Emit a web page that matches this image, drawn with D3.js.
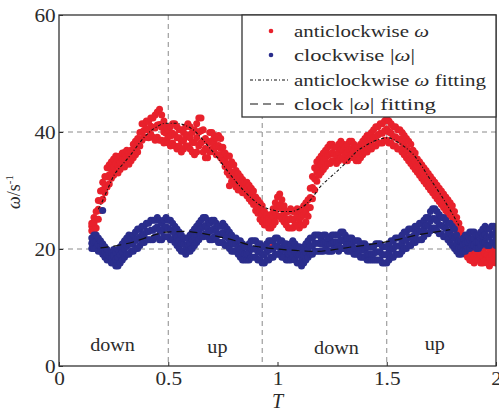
<!DOCTYPE html>
<html><head><meta charset="utf-8">
<script src="https://cdn.jsdelivr.net/npm/d3@7"></script>
<style>
html,body{margin:0;padding:0;background:#fff;}
svg{display:block;}
text{font-family:"Liberation Serif","Times New Roman",serif;fill:#2b2b2b;}
</style></head><body>
<svg id="chart" width="499" height="412"></svg>
<script>
// ---- data ----
const xTicks = [0, 0.5, 1, 1.5, 2];
const xTickLabels = ["0", "0.5", "1", "1.5", "2"];
const yTicks = [0, 20, 40, 60];
const yTickLabels = ["0", "20", "40", "60"];
const vGrid = [0.5, 0.93, 1.5];
const hGrid = [20, 40];
const phaseLabels = ["down", "up", "down", "up"];
const phaseT = [0.245, 0.725, 1.27, 1.72];
const phaseW = [2.5, 2.3, 2.0, 2.7];

// anticlockwise ω: [T, ω, ω, ω]
const anticlockwise = [
[0.15,23.1,23.9,24.4],[0.16,23.0,24.3,25.4],[0.17,23.6,25.1,26.4],[0.18,25.1,26.8,28.3],[0.19,26.6,28.2,29.9],
[0.20,28.5,30.1,31.4],[0.21,29.6,31.0,32.4],[0.22,30.6,32.3,33.9],[0.23,31.1,32.7,34.4],[0.24,32.1,33.6,34.9],
[0.25,32.6,34.0,35.4],[0.26,33.1,34.6,35.9],[0.27,33.0,34.3,35.4],[0.28,33.6,34.8,35.9],[0.29,34.1,35.3,36.4],
[0.30,34.0,35.2,36.5],[0.31,34.6,35.8,36.9],[0.32,34.5,35.5,36.4],[0.33,35.1,36.1,36.9],[0.34,35.6,36.8,37.9],
[0.35,36.1,37.3,38.4],[0.36,36.6,37.8,38.9],[0.37,37.6,38.7,39.9],[0.38,38.6,40.0,41.4],[0.39,39.1,40.3,41.4],
[0.40,39.1,40.5,41.9],[0.41,39.0,40.4,41.8],[0.42,39.6,41.0,42.4],[0.43,39.1,40.8,42.4],[0.44,38.6,40.7,42.9],
[0.45,39.1,41.2,43.4],[0.46,38.6,41.3,43.9],[0.47,38.6,40.8,42.9],[0.48,38.1,40.0,41.9],[0.49,38.6,39.8,40.9],
[0.50,38.1,39.2,40.4],[0.51,37.6,39.3,40.9],[0.52,38.1,39.8,41.4],[0.53,37.6,39.5,41.4],[0.54,37.1,39.0,40.9],
[0.55,37.6,39.0,40.4],[0.56,36.6,38.5,40.4],[0.57,37.1,38.5,39.9],[0.58,37.6,39.2,40.9],[0.59,37.6,39.5,41.4],
[0.60,37.1,39.0,40.9],[0.61,36.6,38.2,39.9],[0.62,36.1,38.2,40.4],[0.63,36.6,39.0,41.4],[0.64,37.6,40.0,42.4],
[0.65,38.1,40.2,42.4],[0.66,36.6,38.5,40.4],[0.67,35.6,37.2,38.9],[0.68,35.6,37.0,38.4],[0.69,36.6,38.2,39.9],
[0.70,37.1,38.5,39.9],[0.71,36.6,38.0,39.4],[0.72,36.1,37.5,38.9],[0.73,36.1,37.7,39.4],[0.74,35.6,37.2,38.9],
[0.75,35.1,36.2,37.4],[0.76,34.1,35.2,36.4],[0.77,33.1,34.5,35.9],[0.78,32.6,34.2,35.9],[0.79,31.6,33.2,34.9],
[0.80,31.1,32.7,34.4],[0.81,30.6,32.0,33.4],[0.82,30.1,31.5,32.9],[0.83,30.1,31.2,32.4],[0.84,29.6,30.8,31.9],
[0.85,29.6,30.5,31.4],[0.86,29.1,30.2,31.4],[0.87,28.6,29.8,30.9],[0.88,28.1,29.2,30.4],[0.89,27.6,28.8,29.9],
[0.90,26.6,27.8,28.9],[0.91,26.1,27.2,28.4],[0.92,25.1,26.5,27.9],[0.93,24.6,26.0,27.4],[0.94,24.1,25.2,26.4],
[0.95,24.1,25.0,25.9],[0.96,23.6,24.5,25.4],[0.97,23.6,24.8,25.9],[0.98,24.1,25.5,26.9],[0.99,24.6,26.2,27.9],
[1.00,25.6,27.2,28.9],[1.01,25.6,27.5,29.4],[1.02,25.1,26.8,28.4],[1.03,24.6,26.0,27.4],[1.04,24.1,25.2,26.4],
[1.05,23.6,25.0,26.4],[1.06,23.6,25.2,26.9],[1.07,23.6,25.0,26.4],[1.08,24.1,25.2,26.4],[1.09,24.1,25.5,26.9],
[1.10,23.6,25.0,26.4],[1.11,24.1,25.5,26.9],[1.12,24.1,25.8,27.4],[1.13,24.6,26.2,27.9],[1.14,25.6,27.0,28.4],
[1.15,27.1,28.8,30.4],[1.16,28.6,30.5,32.4],[1.17,30.1,32.0,33.9],[1.18,31.6,33.2,34.9],[1.19,32.6,34.0,35.4],
[1.20,33.1,34.5,35.9],[1.21,33.6,35.0,36.4],[1.22,34.1,35.5,36.9],[1.23,34.6,36.0,37.4],[1.24,34.6,36.2,37.9],
[1.25,35.1,36.5,37.9],[1.26,35.1,36.2,37.4],[1.27,34.6,36.0,37.4],[1.28,35.1,36.5,37.9],[1.29,35.6,37.0,38.4],
[1.30,35.6,36.8,37.9],[1.31,35.1,36.2,37.4],[1.32,35.1,36.5,37.9],[1.33,35.6,37.0,38.4],[1.34,36.1,37.2,38.4],
[1.35,35.6,36.8,37.9],[1.36,35.1,36.2,37.4],[1.37,35.1,36.2,37.4],[1.38,35.6,36.8,37.9],[1.39,36.1,37.2,38.4],
[1.40,36.6,37.8,38.9],[1.41,36.6,38.0,39.4],[1.42,37.1,38.2,39.4],[1.43,37.1,38.5,39.9],[1.44,37.6,39.0,40.4],
[1.45,37.6,39.2,40.9],[1.46,38.1,39.5,40.9],[1.47,38.1,39.8,41.4],[1.48,38.1,39.8,41.4],[1.49,38.6,40.2,41.9],
[1.50,38.6,40.5,42.4],[1.51,38.1,40.0,41.9],[1.52,38.1,39.8,41.4],[1.53,37.6,39.2,40.9],[1.54,37.6,39.2,40.9],
[1.55,37.1,38.8,40.4],[1.56,37.1,38.8,40.4],[1.57,36.6,38.2,39.9],[1.58,36.1,37.8,39.4],[1.59,35.6,37.2,38.9],
[1.60,35.1,36.8,38.4],[1.61,34.6,36.2,37.9],[1.62,34.1,35.5,36.9],[1.63,33.6,35.0,36.4],[1.64,33.1,34.2,35.4],
[1.65,32.6,33.8,34.9],[1.66,32.1,33.2,34.4],[1.67,31.6,32.8,33.9],[1.68,31.1,32.2,33.4],[1.69,30.6,31.8,32.9],
[1.70,30.1,31.2,32.4],[1.71,29.6,30.8,31.9],[1.72,29.1,30.2,31.4],[1.73,28.6,29.8,30.9],[1.74,28.1,29.2,30.4],
[1.75,27.6,28.8,29.9],[1.76,27.1,28.2,29.4],[1.77,26.6,27.8,28.9],[1.78,26.1,27.2,28.4],[1.79,25.6,26.8,27.9],
[1.80,24.6,26.0,27.4],[1.81,24.1,25.2,26.4],[1.82,23.1,24.2,25.4],[1.83,22.1,23.2,24.4],[1.84,21.1,22.2,23.4],
[1.85,20.1,21.2,22.4],[1.86,19.1,20.2,21.4],[1.87,18.6,19.8,20.9],[1.88,18.1,19.2,20.4],[1.89,18.0,19.3,20.3],
[1.90,17.6,18.8,19.9],[1.91,18.1,19.2,20.4],[1.92,18.1,19.5,20.9],[1.93,17.6,19.0,20.4],[1.94,17.6,18.8,19.9],
[1.95,18.1,19.2,20.4],[1.96,17.6,19.0,20.4],[1.97,17.1,18.5,19.9],[1.98,17.6,19.0,20.4],[1.99,18.1,19.5,20.9],
[2.00,17.6,19.0,20.4],[0.78,30.8],[0.975,20.3]
];

// clockwise |ω|: [T, ω, ω, ω]
const clockwise = [
[0.15,20.1,21.0,21.9],[0.16,20.1,21.2,22.4],[0.17,20.1,21.3,22.4],[0.18,19.6,20.8,21.9],[0.19,19.6,20.5,21.4],
[0.20,19.1,20.0,20.9],[0.21,18.6,19.5,20.4],[0.22,18.1,19.0,19.9],[0.23,18.1,18.8,19.4],[0.24,17.6,18.5,19.4],
[0.25,17.6,18.8,19.9],[0.26,17.1,18.2,19.4],[0.27,17.1,18.5,19.9],[0.28,17.6,19.0,20.4],[0.29,18.1,19.5,20.9],
[0.30,18.6,20.0,21.4],[0.31,19.1,20.5,21.9],[0.32,19.1,20.8,22.4],[0.33,19.6,20.8,21.9],[0.34,19.6,21.0,22.4],
[0.35,20.1,21.5,22.9],[0.36,20.1,21.8,23.4],[0.37,20.6,22.0,23.4],[0.38,21.1,22.5,23.9],[0.39,21.1,22.5,23.9],
[0.40,21.6,23.0,24.4],[0.41,21.6,23.0,24.4],[0.42,21.6,23.2,24.9],[0.43,21.6,23.2,24.9],[0.44,22.1,23.5,24.9],
[0.45,22.1,23.8,25.4],[0.46,21.6,23.2,24.9],[0.47,21.6,23.0,24.4],[0.48,22.1,23.5,24.9],[0.49,22.1,23.8,25.4],
[0.50,22.1,23.5,24.9],[0.51,21.6,23.2,24.9],[0.52,21.6,23.0,24.4],[0.53,21.1,22.5,23.9],[0.54,20.6,22.0,23.4],
[0.55,20.1,21.5,22.9],[0.56,19.6,21.0,22.4],[0.57,19.6,20.8,21.9],[0.58,19.1,20.5,21.9],[0.59,19.6,20.8,21.9],
[0.60,19.6,21.0,22.4],[0.61,20.1,21.5,22.9],[0.62,20.6,22.0,23.4],[0.63,21.1,22.5,23.9],[0.64,21.6,23.0,24.4],
[0.65,22.1,23.5,24.9],[0.66,22.1,23.8,25.4],[0.67,22.6,24.0,25.4],[0.68,22.1,23.5,24.9],[0.69,21.6,23.0,24.4],
[0.70,21.6,23.2,24.9],[0.71,22.1,23.5,24.9],[0.72,21.6,23.0,24.4],[0.73,21.1,22.5,23.9],[0.74,21.1,22.5,23.9],
[0.75,21.1,22.8,24.4],[0.76,20.6,22.2,23.9],[0.77,20.6,22.0,23.4],[0.78,20.1,21.5,22.9],[0.79,19.6,21.0,22.4],
[0.80,19.6,20.8,21.9],[0.81,19.6,20.8,21.9],[0.82,19.1,20.2,21.4],[0.83,18.6,20.0,21.4],[0.84,18.1,19.5,20.9],
[0.85,18.1,19.2,20.4],[0.86,18.1,19.2,20.4],[0.87,18.1,19.5,20.9],[0.88,18.6,20.0,21.4],[0.89,18.6,20.0,21.4],
[0.90,18.6,20.0,21.4],[0.91,18.1,19.5,20.9],[0.92,18.1,19.5,20.9],[0.93,17.6,19.0,20.4],[0.94,17.6,19.0,20.4],
[0.95,18.1,19.5,20.9],[0.96,18.1,19.8,21.4],[0.97,18.6,20.0,21.4],[0.98,18.6,20.0,21.4],[0.99,19.1,20.5,21.9],
[1.00,19.1,20.5,21.9],[1.01,19.1,20.2,21.4],[1.02,18.6,20.0,21.4],[1.03,18.6,19.8,20.9],[1.04,18.1,19.5,20.9],
[1.05,18.1,19.2,20.4],[1.06,18.1,19.5,20.9],[1.07,18.6,20.0,21.4],[1.08,18.1,19.5,20.9],[1.09,17.6,19.0,20.4],
[1.10,17.6,19.0,20.4],[1.11,17.1,18.5,19.9],[1.12,17.6,19.0,20.4],[1.13,18.1,19.5,20.9],[1.14,18.6,20.0,21.4],
[1.15,19.1,20.5,21.9],[1.16,19.1,20.5,21.9],[1.17,19.6,21.0,22.4],[1.18,19.6,21.0,22.4],[1.19,19.6,21.0,22.4],
[1.20,19.6,20.8,21.9],[1.21,19.6,21.0,22.4],[1.22,20.1,21.2,22.4],[1.23,19.6,20.8,21.9],[1.24,19.6,20.8,21.9],
[1.25,19.6,21.0,22.4],[1.26,20.1,21.2,22.4],[1.27,20.1,21.2,22.4],[1.28,19.6,21.0,22.4],[1.29,20.1,21.5,22.9],
[1.30,20.1,21.5,22.9],[1.31,20.1,21.2,22.4],[1.32,19.6,20.8,21.9],[1.33,19.6,20.8,21.9],[1.34,19.6,20.8,21.9],
[1.35,19.1,20.2,21.4],[1.36,19.1,20.2,21.4],[1.37,19.1,20.2,21.4],[1.38,18.6,19.8,20.9],[1.39,18.6,19.8,20.9],
[1.40,18.6,19.8,20.9],[1.41,18.1,19.2,20.4],[1.42,18.1,19.2,20.4],[1.43,18.1,19.2,20.4],[1.44,18.1,19.2,20.4],
[1.45,18.1,19.5,20.9],[1.46,18.1,19.5,20.9],[1.47,18.1,19.5,20.9],[1.48,17.6,19.0,20.4],[1.49,17.6,19.0,20.4],
[1.50,17.6,19.0,20.4],[1.51,18.1,19.5,20.9],[1.52,18.6,20.0,21.4],[1.53,18.6,20.0,21.4],[1.54,19.1,20.5,21.9],
[1.55,19.1,20.5,21.9],[1.56,19.1,20.5,21.9],[1.57,19.6,21.0,22.4],[1.58,20.1,21.5,22.9],[1.59,20.1,21.5,22.9],
[1.60,20.6,22.0,23.4],[1.61,20.6,22.0,23.4],[1.62,21.1,22.2,23.4],[1.63,21.1,22.5,23.9],[1.64,21.6,22.8,23.9],
[1.65,21.6,23.0,24.4],[1.66,21.6,23.0,24.4],[1.67,22.1,23.5,24.9],[1.68,22.6,24.0,25.4],[1.69,22.6,24.0,25.4],
[1.70,23.1,24.8,26.4],[1.71,23.6,25.2,26.9],[1.72,23.6,25.2,26.9],[1.73,23.1,24.8,26.4],[1.74,22.6,24.2,25.9],
[1.75,22.6,24.0,25.4],[1.76,22.1,23.8,25.4],[1.77,22.1,23.5,24.9],[1.78,21.6,23.0,24.4],[1.79,21.1,22.8,24.4],
[1.80,20.6,22.2,23.9],[1.81,20.1,21.8,23.4],[1.82,19.6,21.0,22.4],[1.83,19.1,20.2,21.4],[1.84,19.1,20.2,21.4],
[1.85,19.6,20.8,21.9],[1.86,19.6,21.0,22.4],[1.87,20.1,21.2,22.4],[1.88,20.1,21.5,22.9],[1.89,20.6,21.8,22.9],
[1.90,20.6,21.8,22.9],[1.91,20.1,21.2,22.4],[1.92,20.1,21.2,22.4],[1.93,20.6,21.8,22.9],[1.94,21.1,22.2,23.4],
[1.95,21.1,22.5,23.9],[1.96,20.6,22.0,23.4],[1.97,20.6,22.0,23.4],[1.98,21.1,22.5,23.9],[1.99,21.1,22.5,23.9],
[2.00,20.6,22.0,23.4],[0.20,26.6]
];

// fitted curves [T, ω]
const anticlockwiseFit = [
[0.18,26.8],[0.19,27.5],[0.22,30.0],[0.25,32.5],[0.29,34.4],[0.33,36.2],[0.37,38.2],[0.40,39.5],[0.44,40.7],
[0.49,41.5],[0.53,41.5],[0.58,41.1],[0.62,40.2],[0.66,38.6],[0.70,36.8],[0.73,35.4],[0.77,33.4],[0.81,31.5],
[0.85,29.8],[0.88,28.7],[0.92,27.5],[0.975,26.7],[1.02,26.4],[1.06,26.4],[1.10,26.9],[1.13,27.6],[1.16,28.8],
[1.19,30.4],[1.24,32.2],[1.29,33.9],[1.33,35.4],[1.36,36.6],[1.40,37.6],[1.44,38.4],[1.48,38.9],[1.51,39.0],
[1.54,38.5],[1.58,37.5],[1.63,35.8],[1.66,34.2],[1.69,32.4],[1.72,30.8],[1.75,29.1],[1.78,27.3],[1.81,25.4],[1.83,24.0]
];
const clockwiseFit = [
[0.19,20.2],[0.25,20.5],[0.34,21.2],[0.42,22.2],[0.49,22.9],[0.57,23.0],[0.65,22.7],[0.72,22.2],[0.80,21.5],
[0.87,20.7],[0.95,20.2],[1.03,19.9],[1.10,19.7],[1.18,19.6],[1.26,19.9],[1.33,20.3],[1.41,20.7],[1.48,21.1],
[1.56,21.7],[1.64,22.4],[1.72,22.9],[1.79,23.3]
];

// ---- drawing ----
const W = 499, H = 412;
const L = 59, R = 496, T = 15, B = 366;
const RED = "#e8212c", BLUE = "#2a2d8c", INK = "#2b2b2b";
const FONT = '"Liberation Serif","Times New Roman",serif';
const SX = "scale(1.12,1)";
const svg = d3.select("#chart");
svg.append("rect").attr("width", W).attr("height", H).attr("fill", "#fff");

const x = d3.scaleLinear().domain([0, 2]).range([L, R]);
const y = d3.scaleLinear().domain([0, 60]).range([B, T]);

svg.append("defs").append("clipPath").attr("id", "clip")
  .append("rect").attr("x", L).attr("y", T).attr("width", R - L).attr("height", B - T);

// grid
const grid = svg.append("g").attr("stroke", "#8a8a8a").attr("stroke-width", 1).attr("stroke-dasharray", "5,4");
grid.selectAll(".vg").data(vGrid).join("line")
  .attr("x1", d => x(d)).attr("x2", d => x(d)).attr("y1", T).attr("y2", B);
grid.selectAll(".hg").data(hGrid).join("line")
  .attr("x1", L).attr("x2", R).attr("y1", d => y(d)).attr("y2", d => y(d));

// points
const flat = rows => rows.flatMap(r => r.slice(1).map(v => [r[0], v]));
const pts = svg.append("g").attr("clip-path", "url(#clip)");
pts.selectAll(".r").data(flat(anticlockwise)).join("circle")
  .attr("cx", d => x(d[0])).attr("cy", d => y(d[1])).attr("r", 3.5).attr("fill", RED);
pts.selectAll(".b").data(flat(clockwise)).join("circle")
  .attr("cx", d => x(d[0])).attr("cy", d => y(d[1])).attr("r", 3.5).attr("fill", BLUE);

// fits
const line = d3.line().x(d => x(d[0])).y(d => y(d[1])).curve(d3.curveMonotoneX);
svg.append("path").datum(anticlockwiseFit).attr("d", line).attr("fill", "none")
  .attr("stroke", "#111").attr("stroke-width", 1.1).attr("stroke-dasharray", "3,2,1,2");
svg.append("path").datum(clockwiseFit).attr("d", line).attr("fill", "none")
  .attr("stroke", "#111").attr("stroke-width", 1.2).attr("stroke-dasharray", "8,5");

// axes
const fs = 19;
const xAxis = d3.axisBottom(x).tickValues(xTicks).tickFormat((d, i) => xTickLabels[i]).tickSize(-4).tickPadding(6);
const gx = svg.append("g").attr("transform", `translate(0,${B})`).call(xAxis);
const yAxis = d3.axisLeft(y).tickValues(yTicks).tickFormat((d, i) => yTickLabels[i]).tickSize(-4).tickPadding(3);
const gy = svg.append("g").attr("transform", `translate(${L},0)`).call(yAxis);
[gx, gy].forEach(g => {
  g.select(".domain").remove();
  g.selectAll("line").attr("stroke", INK);
  g.selectAll("text").attr("font-family", FONT).attr("font-size", fs).attr("fill", INK)
    .attr("transform", SX);
});

// frame
svg.append("rect").attr("x", L).attr("y", T).attr("width", R - L).attr("height", B - T)
  .attr("fill", "none").attr("stroke", "#333").attr("stroke-width", 1.3);

// phase labels
svg.selectAll(".ph").data(phaseLabels).join("text")
  .attr("transform", (d, i) => `translate(${x(phaseT[i])},${y(phaseW[i])}) ${SX}`)
  .attr("text-anchor", "middle").attr("font-size", 18).text(d => d);

// axis titles
svg.append("text").attr("x", x(1)).attr("y", 408).attr("text-anchor", "middle")
  .attr("font-size", 20).attr("font-style", "italic").text("T");
const yl = svg.append("text").attr("transform", "translate(20,192) rotate(-90)")
  .attr("text-anchor", "middle").attr("font-size", 18);
yl.append("tspan").attr("font-style", "italic").text("ω");
yl.append("tspan").text("/s");
yl.append("tspan").attr("font-size", 11).attr("dy", -7).text("-1");

// legend
const lg = svg.append("g");
lg.append("rect").attr("x", 242).attr("y", T).attr("width", R - 242).attr("height", 102)
  .attr("fill", "#fff").attr("stroke", "#333").attr("stroke-width", 1.3);
const rowsY = [31, 55, 80, 104];
lg.append("circle").attr("cx", 271).attr("cy", rowsY[0]).attr("r", 2.3).attr("fill", RED);
lg.append("circle").attr("cx", 271).attr("cy", rowsY[1]).attr("r", 2.3).attr("fill", BLUE);
lg.append("line").attr("x1", 250).attr("x2", 289).attr("y1", rowsY[2]).attr("y2", rowsY[2])
  .attr("stroke", "#111").attr("stroke-width", 1.1).attr("stroke-dasharray", "3,2,1,2");
lg.append("line").attr("x1", 250).attr("x2", 289).attr("y1", rowsY[3]).attr("y2", rowsY[3])
  .attr("stroke", "#111").attr("stroke-width", 1.2).attr("stroke-dasharray", "8,5");
const legendItems = [
  [["anticlockwise ", false], ["ω", true]],
  [["clockwise |", false], ["ω", true], ["|", false]],
  [["anticlockwise ", false], ["ω", true], [" fitting", false]],
  [["clock |", false], ["ω", true], ["| fitting", false]]
];
const legendLen = [135, 121, 192, 142];
legendItems.forEach((parts, i) => {
  const t = lg.append("text").attr("x", 294).attr("y", rowsY[i] + 5.5).attr("font-size", 16.5)
    .attr("textLength", legendLen[i]).attr("lengthAdjust", "spacingAndGlyphs");
  parts.forEach(p => t.append("tspan").attr("font-style", p[1] ? "italic" : null).text(p[0]));
});
</script>
</body></html>
